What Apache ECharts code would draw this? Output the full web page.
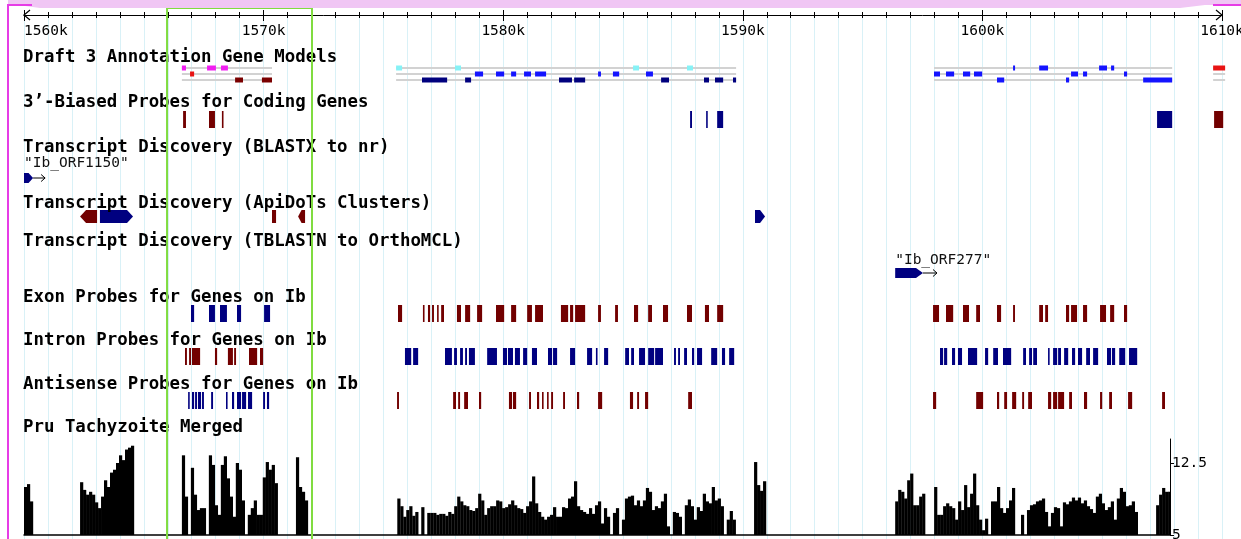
<!DOCTYPE html>
<html><head><meta charset="utf-8">
<script src="https://cdn.jsdelivr.net/npm/echarts@6/dist/echarts.min.js"></script>
<style>html,body{margin:0;padding:0;background:#fff;overflow:hidden}#c{width:1241px;height:539px}</style>
</head><body><div id="c"></div>
<script>
// ================= DATA (positions in kb) =================
const axisRangeKb = [1560, 1610];
const axisMajorStepKb = 10;
const histRangeKb = [1560, 1607.83];
const coverageAxis = [5, 15];
const coverageTickValues = [5, 12.5];

const trackNames = [
  'Draft 3 Annotation Gene Models',
  '3\u2019-Biased Probes for Coding Genes',
  'Transcript Discovery (BLASTX to nr)',
  'Transcript Discovery (ApiDoTs Clusters)',
  'Transcript Discovery (TBLASTN to OrthoMCL)',
  'Exon Probes for Genes on Ib',
  'Intron Probes for Genes on Ib',
  'Antisense Probes for Genes on Ib',
  'Pru Tachyzoite Merged'
];

const highlightRegion = [[1565.97, 1572.02]];

// gene model spans: [start, end, row]
const geneModelSpans = [
  [1566.59, 1570.35, 0], [1566.59, 1570.35, 1], [1566.59, 1570.35, 2],
  [1575.53, 1589.72, 0], [1575.53, 1589.72, 1], [1575.53, 1589.72, 2],
  [1597.98, 1607.92, 0], [1597.98, 1607.92, 1], [1597.98, 1607.92, 2],
  [1609.63, 1610.13, 0], [1609.63, 1610.13, 1], [1609.63, 1610.13, 2]
];
// gene model exons: [start, end, row, modelClass]
const geneModelExons = [
  [1566.59, 1566.76, 0, 0], [1567.64, 1568.01, 0, 0], [1568.22, 1568.51, 0, 0],
  [1566.93, 1567.10, 1, 1],
  [1568.81, 1569.14, 2, 2], [1569.93, 1570.35, 2, 2],
  [1575.53, 1575.78, 0, 3], [1577.99, 1578.24, 0, 3], [1585.42, 1585.67, 0, 3], [1587.67, 1587.92, 0, 3],
  [1578.82, 1579.16, 1, 4], [1579.70, 1580.04, 1, 4], [1580.33, 1580.54, 1, 4], [1580.87, 1581.16, 1, 4],
  [1581.33, 1581.79, 1, 4], [1583.96, 1584.08, 1, 4], [1584.58, 1584.84, 1, 4], [1585.96, 1586.25, 1, 4],
  [1576.61, 1577.66, 2, 5], [1578.41, 1578.66, 2, 5], [1582.33, 1582.87, 2, 5], [1582.96, 1583.42, 2, 5],
  [1586.59, 1586.92, 2, 5], [1588.38, 1588.59, 2, 5], [1588.84, 1589.18, 2, 5], [1589.59, 1589.72, 2, 5],
  [1601.28, 1601.36, 0, 4], [1602.37, 1602.74, 0, 4], [1604.87, 1605.20, 0, 4], [1605.37, 1605.50, 0, 4],
  [1597.98, 1598.23, 1, 4], [1598.48, 1598.82, 1, 4], [1599.19, 1599.49, 1, 4], [1599.65, 1599.99, 1, 4],
  [1603.70, 1603.99, 1, 4], [1604.20, 1604.37, 1, 4], [1605.91, 1606.04, 1, 4],
  [1600.61, 1600.91, 2, 4], [1603.49, 1603.62, 2, 4], [1606.71, 1607.92, 2, 4],
  [1609.63, 1610.13, 0, 1]
];

// probes: [start, end, strand]
const threePrimeProbes = [
  [1566.64, 1566.76, -1], [1567.72, 1567.97, -1], [1568.26, 1568.31, -1],
  [1587.80, 1587.88, 1], [1588.47, 1588.51, 1], [1588.93, 1589.18, 1],
  [1607.29, 1607.92, 1], [1609.67, 1610.05, -1]
];

const blastxHits = [[1560.00, 1560.38, 'Ib_ORF1150']];
const tblastnHits = [[1596.36, 1597.52, 'Ib_ORF277']];
// ApiDoTs clusters: [start, end, strand]
const apidotsClusters = [
  [1562.34, 1563.05, -1], [1563.17, 1564.55, 1], [1570.35, 1570.52, 0],
  [1571.44, 1571.73, -1], [1590.51, 1590.93, 1]
];

const exonProbes = [
  [1566.97, 1567.10, 1], [1567.72, 1567.97, 1], [1568.18, 1568.47, 1], [1568.89, 1569.06, 1], [1570.02, 1570.27, 1],
  [1575.61, 1575.78, -1], [1576.65, 1576.70, -1], [1576.86, 1576.95, -1], [1577.03, 1577.11, -1], [1577.24, 1577.28, -1],
  [1577.41, 1577.53, -1], [1578.07, 1578.24, -1], [1578.41, 1578.62, -1], [1578.91, 1579.12, -1], [1579.70, 1580.04, -1],
  [1580.33, 1580.54, -1], [1581.00, 1581.20, -1], [1581.33, 1581.66, -1], [1582.41, 1582.71, -1], [1582.79, 1582.92, -1],
  [1583.00, 1583.42, -1], [1583.96, 1584.08, -1], [1584.67, 1584.79, -1], [1585.46, 1585.63, -1], [1586.05, 1586.21, -1],
  [1586.67, 1586.88, -1], [1587.67, 1587.88, -1], [1588.42, 1588.59, -1], [1588.93, 1589.18, -1],
  [1597.94, 1598.19, -1], [1598.48, 1598.78, -1], [1599.19, 1599.44, -1], [1599.74, 1599.90, -1], [1600.61, 1600.78, -1],
  [1601.28, 1601.36, -1], [1602.37, 1602.53, -1], [1602.62, 1602.74, -1], [1603.49, 1603.62, -1], [1603.70, 1603.95, -1],
  [1604.20, 1604.37, -1], [1604.91, 1605.16, -1], [1605.33, 1605.50, -1], [1605.91, 1606.04, -1]
];

const intronProbes = [
  [1566.72, 1566.80, -1], [1566.89, 1566.97, -1], [1567.01, 1567.35, -1], [1567.97, 1568.06, -1],
  [1568.51, 1568.72, -1], [1568.77, 1568.85, -1], [1569.39, 1569.73, -1], [1569.85, 1569.98, -1],
  [1575.90, 1576.16, 1], [1576.24, 1576.45, 1], [1577.57, 1577.86, 1], [1577.95, 1578.07, 1], [1578.20, 1578.32, 1],
  [1578.41, 1578.49, 1], [1578.57, 1578.82, 1], [1579.33, 1579.74, 1], [1579.99, 1580.16, 1], [1580.20, 1580.41, 1],
  [1580.49, 1580.70, 1], [1580.83, 1581.00, 1], [1581.20, 1581.41, 1], [1581.87, 1582.04, 1], [1582.08, 1582.25, 1],
  [1582.79, 1583.00, 1], [1583.50, 1583.71, 1], [1583.87, 1583.92, 1], [1584.21, 1584.38, 1], [1585.09, 1585.25, 1],
  [1585.34, 1585.46, 1], [1585.67, 1585.92, 1], [1586.05, 1586.30, 1], [1586.34, 1586.67, 1], [1587.13, 1587.21, 1],
  [1587.30, 1587.38, 1], [1587.55, 1587.67, 1], [1587.88, 1587.97, 1], [1588.09, 1588.30, 1], [1588.68, 1588.93, 1],
  [1589.13, 1589.26, 1], [1589.43, 1589.64, 1],
  [1598.23, 1598.36, 1], [1598.40, 1598.53, 1], [1598.73, 1598.86, 1], [1598.98, 1599.15, 1], [1599.40, 1599.78, 1],
  [1600.11, 1600.24, 1], [1600.45, 1600.65, 1], [1600.86, 1601.20, 1], [1601.70, 1601.82, 1], [1601.95, 1602.07, 1],
  [1602.12, 1602.28, 1], [1602.74, 1602.78, 1], [1602.95, 1603.12, 1], [1603.16, 1603.28, 1], [1603.41, 1603.58, 1],
  [1603.74, 1603.87, 1], [1603.99, 1604.16, 1], [1604.33, 1604.49, 1], [1604.62, 1604.83, 1], [1605.20, 1605.37, 1],
  [1605.41, 1605.54, 1], [1605.71, 1605.96, 1], [1606.12, 1606.46, 1]
];

const antisenseProbes = [
  [1566.85, 1566.89, 1], [1567.01, 1567.10, 1], [1567.14, 1567.22, 1], [1567.26, 1567.39, 1], [1567.43, 1567.51, 1],
  [1567.81, 1567.89, 1], [1568.43, 1568.47, 1], [1568.68, 1568.77, 1], [1568.89, 1569.06, 1], [1569.10, 1569.27, 1],
  [1569.35, 1569.52, 1], [1569.98, 1570.06, 1], [1570.14, 1570.23, 1],
  [1575.57, 1575.65, -1], [1577.91, 1578.03, -1], [1578.12, 1578.20, -1], [1578.37, 1578.53, -1], [1578.99, 1579.08, -1],
  [1580.24, 1580.37, -1], [1580.41, 1580.54, -1], [1581.08, 1581.16, -1], [1581.41, 1581.50, -1], [1581.62, 1581.66, -1],
  [1581.83, 1581.87, -1], [1582.00, 1582.08, -1], [1582.50, 1582.58, -1], [1583.08, 1583.17, -1], [1583.96, 1584.13, -1],
  [1585.29, 1585.42, -1], [1585.59, 1585.67, -1], [1585.92, 1586.05, -1], [1587.72, 1587.88, -1],
  [1597.94, 1598.07, -1], [1599.74, 1600.03, -1], [1600.61, 1600.70, -1], [1600.91, 1601.03, -1], [1601.24, 1601.41, -1],
  [1601.66, 1601.74, -1], [1601.91, 1602.07, -1], [1602.74, 1602.87, -1], [1602.95, 1603.12, -1], [1603.16, 1603.41, -1],
  [1603.62, 1603.74, -1], [1604.24, 1604.37, -1], [1604.91, 1605.00, -1], [1605.29, 1605.41, -1], [1606.08, 1606.25, -1],
  [1607.50, 1607.62, -1]
];

// coverage (Pru Tachyzoite Merged), bins of coverageBinKb starting at each cluster start
const coverageBinKb = 0.125;
const coverageStarts = [1560.00, 1562.34, 1566.59, 1571.35, 1575.58, 1590.47, 1596.36, 1607.25];
const coverage1 = [10.0, 10.3, 8.5];
const coverage2 = [10.5, 9.7, 9.2, 9.5, 9.2, 8.4, 7.8, 9.0, 10.7, 10.0, 11.5, 11.8, 12.5, 13.3, 12.8, 13.9, 14.1, 14.3];
const coverage3 = [13.3, 9.0, 5, 12.0, 9.2, 7.6, 7.8, 7.8, 5, 13.3, 12.3, 8.1, 7.1, 12.3, 13.2, 10.9,
  9.0, 6.9, 12.5, 11.8, 8.6, 5, 7.1, 7.8, 8.6, 7.1, 7.1, 11.0, 12.6, 11.8, 12.3, 10.4];
const coverage4 = [13.1, 10.0, 9.5, 8.6];
const coverage5 = [8.8, 8.0, 6.9, 7.6, 8.0, 7.0, 7.4, 5, 7.9, 5, 7.3, 7.3, 7.3, 7.1, 7.2, 7.2, 7.0, 7.4, 7.2, 8.0,
  9.0, 8.5, 8.1, 8.0, 7.6, 7.5, 7.8, 9.3, 8.6, 7.1, 7.8, 8.0, 8.0, 8.6, 8.5, 7.8, 7.9, 8.2, 8.6, 8.1,
  7.8, 7.7, 7.3, 8.0, 8.5, 11.1, 8.3, 7.4, 6.9, 6.6, 6.9, 7.1, 7.9, 6.9, 6.9, 7.9, 7.8, 8.8, 9.0, 10.6,
  8.0, 7.6, 7.4, 7.2, 7.8, 7.2, 8.1, 8.5, 6.2, 7.8, 6.9, 5, 7.3, 7.8, 5, 6.6, 8.8, 9.0, 9.1, 8.1,
  8.6, 8.0, 8.6, 9.9, 9.5, 7.6, 8.0, 7.8, 8.5, 9.3, 5.9, 5, 7.4, 7.3, 6.9, 5, 8.1, 8.7, 8.0, 6.6,
  7.9, 7.5, 9.3, 8.5, 8.3, 10.0, 8.6, 8.8, 8.0, 5, 6.6, 7.5, 6.6];
const coverage6 = [12.6, 10.2, 9.6, 10.6];
const coverage7 = [8.5, 9.7, 9.5, 8.8, 10.7, 11.4, 8.1, 8.1, 9.0, 9.3, 5, 5, 5, 10.0, 7.1, 7.1, 8.0, 8.3, 8.0, 7.8,
  6.6, 8.5, 7.6, 10.2, 7.9, 9.3, 11.4, 8.1, 6.6, 5.5, 6.7, 5, 8.5, 8.5, 10.0, 7.8, 7.3, 7.8, 8.6, 9.9,
  5, 5, 7.1, 5, 7.6, 8.1, 8.2, 8.5, 8.6, 8.8, 7.4, 5.9, 7.3, 7.9, 7.8, 5.9, 8.4, 8.2, 8.5, 8.9,
  8.6, 8.9, 8.3, 8.6, 8.0, 7.7, 7.3, 9.0, 9.3, 8.3, 7.6, 7.9, 8.5, 6.6, 8.8, 9.9, 9.5, 8.0, 8.1, 8.5, 7.4];
const coverage8 = [8.1, 9.2, 9.9, 9.5, 9.5];
const coverageValues = [coverage1, coverage2, coverage3, coverage4, coverage5, coverage6, coverage7, coverage8];

// ================= LAYOUT & STYLE =================
const L = {
  labelX: 23,
  labelY: [57, 102, 147, 203, 241, 297.5, 340, 384, 427.5],
  geneRowY: [68, 74, 80], geneBoxH: 5,
  threePrime: { top: 111, h: 17 },
  blastx: { top: 173, h: 10, labelY: 163, arrow: 12 },
  apidots: { top: 210, h: 13 },
  tblastn: { top: 268, h: 10, labelY: 260, arrow: 14 },
  exon: { top: 305, h: 17 }, intron: { top: 348, h: 17 }, antisense: { top: 392, h: 17 }
};
const NAVY = '#000080', DARKRED = '#720000';
const geneColors = ['#f01ef0', '#e81414', '#7a0000', '#86f2f6', '#1414ff', '#00007e'];
const MONO = '"DejaVu Sans Mono", "Liberation Mono", monospace';
const GRIDLINE = '#d9f1f7';

// ================= BUILD =================
const histData = [];
coverageStarts.forEach((s, ci) => coverageValues[ci].forEach((v, i) => {
  histData.push([s + i * coverageBinKb, s + (i + 1) * coverageBinKb, v]);
}));

const chart = echarts.init(document.getElementById('c'), null, { renderer: 'canvas' });

function xOf(api, v) { return api.coord([v, 0])[0]; }

function probeSeries(data, T) {
  return {
    type: 'custom', xAxisIndex: 0, yAxisIndex: 0, silent: true, data: data,
    renderItem: function (params, api) {
      const f = data[params.dataIndex];
      const x0 = xOf(api, f[0]), x1 = xOf(api, f[1]);
      return { type: 'rect', shape: { x: x0, y: T.top, width: Math.max(x1 - x0, 1.6), height: T.h },
        style: { fill: f[2] > 0 ? NAVY : DARKRED } };
    }
  };
}

function orfSeries(data, T) {
  return {
    type: 'custom', xAxisIndex: 0, yAxisIndex: 0, silent: true, data: data.map(d => [d[0], d[1]]),
    renderItem: function (params, api) {
      const f = data[params.dataIndex];
      const x0 = xOf(api, f[0]), x1 = xOf(api, f[1]);
      const t = T.top, b = T.top + T.h, m = (t + b) / 2;
      const tip = Math.min(7, (x1 - x0) / 2);
      const ax = x1 + T.arrow;
      return { type: 'group', children: [
        { type: 'polygon', shape: { points: [[x0, t], [x1 - tip, t], [x1, m], [x1 - tip, b], [x0, b]] }, style: { fill: NAVY } },
        { type: 'polyline', shape: { points: [[x1, m], [ax, m]] }, style: { stroke: '#000', lineWidth: 1, fill: null } },
        { type: 'polyline', shape: { points: [[ax - 4, m - 3.5], [ax, m], [ax - 4, m + 3.5]] }, style: { stroke: '#000', lineWidth: 1, fill: null } },
        { type: 'text', style: { x: x0, y: T.labelY, text: '"' + f[2] + '"', font: '14.5px ' + MONO, fill: '#111', align: 'left', verticalAlign: 'middle' } }
      ] };
    }
  };
}

const series = [
  { // gene model spans
    type: 'custom', xAxisIndex: 0, yAxisIndex: 0, silent: true, data: geneModelSpans,
    renderItem: function (params, api) {
      const f = geneModelSpans[params.dataIndex];
      const y = L.geneRowY[f[2]];
      return { type: 'line', shape: { x1: xOf(api, f[0]), y1: y, x2: xOf(api, f[1]), y2: y }, style: { stroke: '#d2d2d2', lineWidth: 2 } };
    }
  },
  { // gene model exons
    type: 'custom', xAxisIndex: 0, yAxisIndex: 0, silent: true, data: geneModelExons,
    renderItem: function (params, api) {
      const f = geneModelExons[params.dataIndex];
      const x0 = xOf(api, f[0]), x1 = xOf(api, f[1]);
      const y = L.geneRowY[f[2]];
      return { type: 'rect', shape: { x: x0, y: y - L.geneBoxH / 2, width: Math.max(x1 - x0, 2), height: L.geneBoxH }, style: { fill: geneColors[f[3]] } };
    }
  },
  probeSeries(threePrimeProbes, L.threePrime),
  orfSeries(blastxHits, L.blastx),
  { // ApiDoTs clusters
    type: 'custom', xAxisIndex: 0, yAxisIndex: 0, silent: true, data: apidotsClusters,
    renderItem: function (params, api) {
      const f = apidotsClusters[params.dataIndex];
      const x0 = xOf(api, f[0]), x1 = xOf(api, f[1]);
      const t = L.apidots.top, b = t + L.apidots.h, m = (t + b) / 2;
      const tip = Math.min(6, (x1 - x0) / 2);
      let pts;
      if (f[2] > 0) pts = [[x0, t], [x1 - tip, t], [x1, m], [x1 - tip, b], [x0, b]];
      else if (f[2] < 0) pts = [[x0, m], [x0 + tip, t], [x1, t], [x1, b], [x0 + tip, b]];
      else pts = [[x0, t], [x1, t], [x1, b], [x0, b]];
      return { type: 'polygon', shape: { points: pts }, style: { fill: f[2] > 0 ? NAVY : DARKRED } };
    }
  },
  orfSeries(tblastnHits, L.tblastn),
  probeSeries(exonProbes, L.exon),
  probeSeries(intronProbes, L.intron),
  probeSeries(antisenseProbes, L.antisense),
  { // coverage histogram
    type: 'custom', xAxisIndex: 2, yAxisIndex: 1, silent: true, clip: true, data: histData,
    encode: { x: [0, 1], y: 2 },
    renderItem: function (params, api) {
      const p0 = api.coord([api.value(0), api.value(2)]);
      const p1 = api.coord([api.value(1), coverageAxis[0]]);
      return { type: 'rect', shape: { x: p0[0], y: p0[1], width: p1[0] - p0[0] + 0.2, height: p1[1] - p0[1] }, style: { fill: '#000' } };
    }
  },
  { // highlighted region
    type: 'custom', xAxisIndex: 0, yAxisIndex: 0, silent: true, z: 20, data: highlightRegion,
    renderItem: function (params, api) {
      const f = highlightRegion[params.dataIndex];
      const x0 = xOf(api, f[0]), x1 = xOf(api, f[1]);
      return { type: 'rect', shape: { x: x0, y: 8, width: x1 - x0, height: 540 }, style: { fill: null, stroke: '#80dc40', lineWidth: 2 } };
    }
  }
];

const graphics = [
  { type: 'polygon', z: 30, shape: { points: [[8, 0], [1241, 0], [1241, 5], [1205, 5], [1180, 8], [40, 8], [25, 6], [8, 6]] }, style: { fill: '#f0c6f4' } },
  { type: 'polyline', z: 31, shape: { points: [[8, 545], [8, 5], [32, 5]] }, style: { stroke: '#e63ce6', lineWidth: 2, fill: null } },
  { type: 'polyline', z: 31, shape: { points: [[1213, 5], [1241, 5]] }, style: { stroke: '#e63ce6', lineWidth: 2, fill: null } }
];
trackNames.forEach((name, i) => {
  graphics.push({ type: 'text', z: 5, x: L.labelX, y: L.labelY[i],
    style: { text: name, font: 'bold 17.4px ' + MONO, fill: '#000', align: 'left', verticalAlign: 'middle' } });
});

const axisLabelFont = { fontFamily: MONO, fontSize: 14.5, color: '#000' };
const kbLabel = v => String(v) + 'k';

chart.setOption({
  animation: false,
  backgroundColor: '#fff',
  grid: [
    { left: 24, right: 19, top: 15, bottom: 0, containLabel: false, outerBoundsMode: 'none' },
    { left: 24, right: 71, top: 439, bottom: 4, containLabel: false, outerBoundsMode: 'none' }
  ],
  xAxis: [
    { gridIndex: 0, type: 'value', position: 'top', min: axisRangeKb[0], max: axisRangeKb[1], interval: axisMajorStepKb,
      axisLine: { show: true, onZero: false, lineStyle: { color: '#000', width: 1 } },
      axisTick: { show: true, length: 5, lineStyle: { color: '#000' } },
      minorTick: { show: true, splitNumber: 10, length: 3, lineStyle: { color: '#000' } },
      axisLabel: Object.assign({ show: true, inside: true, margin: 9, formatter: kbLabel, alignMinLabel: 'left' }, axisLabelFont),
      splitLine: { show: true, lineStyle: { color: GRIDLINE, width: 1 } },
      minorSplitLine: { show: true, lineStyle: { color: GRIDLINE, width: 1 } } },
    { gridIndex: 0, type: 'value', position: 'top', min: axisRangeKb[0], max: axisRangeKb[1], interval: axisMajorStepKb,
      axisLine: { show: false, onZero: false },
      axisTick: { show: true, inside: true, length: 6, lineStyle: { color: '#000' } },
      minorTick: { show: true, splitNumber: 10, length: 3, lineStyle: { color: '#000' } },
      axisLabel: { show: false }, splitLine: { show: false } },
    { gridIndex: 1, type: 'value', min: histRangeKb[0], max: histRangeKb[1],
      axisLine: { show: true, onZero: false, lineStyle: { color: '#000', width: 1.5 } },
      axisTick: { show: false }, axisLabel: { show: false }, splitLine: { show: false } }
  ],
  yAxis: [
    { gridIndex: 0, type: 'value', min: 0, max: 1, show: false },
    { gridIndex: 1, type: 'value', position: 'right', min: coverageAxis[0], max: coverageAxis[1],
      axisLine: { show: true, onZero: false, lineStyle: { color: '#000', width: 1 } },
      axisTick: { show: true, length: 4, customValues: coverageTickValues, lineStyle: { color: '#000' } },
      axisLabel: Object.assign({ show: true, margin: 2, customValues: coverageTickValues }, axisLabelFont),
      splitLine: { show: false } }
  ],
  series: series,
  graphic: graphics
});

// axis end chevrons
const xL = chart.convertToPixel({ xAxisIndex: 0 }, axisRangeKb[0]);
const xR = chart.convertToPixel({ xAxisIndex: 0 }, axisRangeKb[1]);
graphics.push({ type: 'polyline', z: 6, shape: { points: [[xL + 6, 10], [xL, 15], [xL + 6, 20]] }, style: { stroke: '#000', lineWidth: 1.2, fill: null } });
graphics.push({ type: 'polyline', z: 6, shape: { points: [[xR - 6, 10], [xR, 15], [xR - 6, 20]] }, style: { stroke: '#000', lineWidth: 1.2, fill: null } });
chart.setOption({ graphic: graphics });
</script>
</body></html>
